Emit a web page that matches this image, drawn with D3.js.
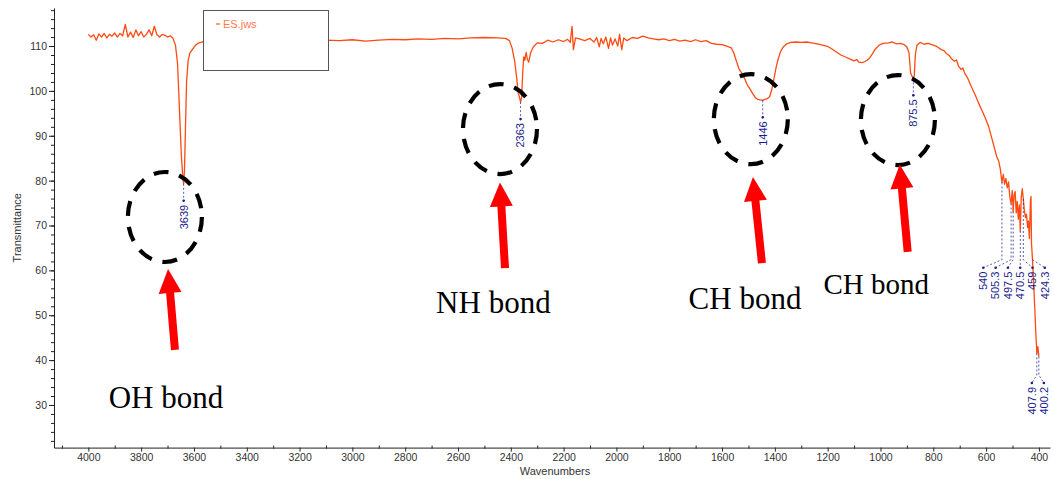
<!DOCTYPE html>
<html>
<head>
<meta charset="utf-8">
<script src="https://cdn.jsdelivr.net/npm/d3@7"></script>
<style>
  body { margin: 0; background: #fff; }
  svg { display: block; }
</style>
</head>
<body>
<div id="chart"></div>
<script>
// IR spectrum (wavenumber, %T)
const wavenumbers = [
  4000, 3990, 3980, 3970, 3960, 3950, 3940, 3930, 3920, 3910, 3900, 3890, 3880, 3870, 3860, 3850,
  3840, 3830, 3820, 3810, 3800, 3790, 3780, 3770, 3760, 3750, 3740, 3730, 3720, 3710, 3700, 3690,
  3680, 3670, 3662, 3655, 3648, 3642, 3639, 3636, 3632, 3628, 3622, 3615, 3605, 3595, 3585, 3570,
  3550, 3100, 3050, 3000, 2950, 2900, 2850, 2800, 2750, 2700, 2650, 2600, 2550, 2500, 2450, 2420,
  2405, 2395, 2385, 2378, 2372, 2368, 2363, 2359, 2355, 2351, 2347, 2342, 2337, 2332, 2325, 2315,
  2300, 2280, 2260, 2240, 2220, 2200, 2185, 2175, 2168, 2163, 2155, 2140, 2120, 2100, 2085, 2075,
  2065, 2058, 2050, 2040, 2030, 2022, 2015, 2005, 1995, 1988, 1980, 1972, 1960, 1940, 1920, 1900,
  1880, 1860, 1840, 1820, 1800, 1780, 1760, 1740, 1720, 1700, 1680, 1660, 1640, 1620, 1600, 1580,
  1565, 1555, 1545, 1535, 1525, 1515, 1505, 1495, 1485, 1475, 1465, 1455, 1446, 1438, 1428, 1420,
  1412, 1404, 1395, 1388, 1378, 1368, 1355, 1340, 1320, 1300, 1280, 1260, 1240, 1220, 1200, 1185,
  1170, 1150, 1130, 1115, 1100, 1090, 1082, 1070, 1060, 1050, 1040, 1030, 1020, 1005, 990, 970,
  955, 940, 925, 910, 900, 892, 886, 880, 875.5, 872, 868, 862, 850, 835, 820, 800,
  790, 780, 770, 760, 750, 740, 730, 720, 712, 705, 695, 688, 680, 670, 660, 650,
  640, 630, 620, 610, 600, 590, 580, 570, 560, 552, 546, 540, 535, 530, 525, 520,
  515, 510, 505.3, 501, 497.5, 494, 490, 486, 482, 478, 474, 470.5, 467, 463, 459, 455,
  451, 447, 443, 440, 436, 432, 430, 428, 424.3, 420, 416, 412, 407.9, 404, 400.2
];
const transmittance = [
  112.6, 112.0, 112.5, 111.3, 112.7, 112.0, 112.8, 111.8, 112.6, 112.2, 112.9, 112.0, 112.8, 112.3, 114.8, 112.0,
  113.1, 111.9, 113.6, 112.3, 113.2, 112.0, 112.6, 113.6, 112.3, 114.4, 112.5, 112.0, 112.6, 112.4, 112.0, 112.3,
  111.8, 110.2, 106.0, 96.0, 86.0, 80.5, 79.3, 82.0, 92.0, 102.0, 106.8, 108.5, 109.3, 110.1, 110.6, 110.9,
  111.1, 111.3, 111.2, 111.4, 111.1, 111.3, 111.5, 111.4, 111.6, 111.5, 111.7, 111.6, 111.8, 111.9, 111.8, 111.7,
  111.2, 109.5, 106.5, 103.0, 99.5, 98.8, 97.5, 98.5, 104.0, 107.6, 106.8, 108.6, 107.0, 106.4, 108.5, 109.8,
  110.7, 110.6, 111.3, 110.9, 111.4, 111.0, 111.5, 110.8, 114.4, 109.2, 111.8, 111.6, 111.2, 111.7, 110.9, 111.9,
  109.8, 111.7, 110.5, 112.0, 109.5, 111.8, 110.2, 111.6, 110.0, 112.6, 109.2, 111.8, 111.2, 111.9, 111.7, 112.2,
  111.8, 111.6, 111.4, 111.6, 111.2, 111.5, 111.1, 111.3, 111.0, 111.4, 111.0, 111.2, 110.6, 110.4, 110.3, 109.9,
  109.6, 108.4, 106.5, 104.8, 103.9, 102.8, 101.4, 100.5, 99.5, 98.6, 98.1, 98.0, 97.9, 98.1, 98.3, 98.7,
  100.2, 102.5, 105.3, 107.0, 108.8, 109.8, 110.5, 110.8, 110.9, 110.8, 110.9, 110.7, 110.5, 110.2, 109.9, 109.4,
  108.8, 108.0, 107.5, 107.1, 106.7, 107.0, 106.4, 106.3, 106.5, 106.9, 107.4, 108.3, 109.3, 110.2, 110.6, 110.7,
  110.9, 110.5, 110.6, 110.3, 109.8, 108.5, 104.0, 103.2, 102.8, 103.4, 108.0, 110.2, 110.8, 110.4, 110.6, 110.2,
  110.0, 109.6, 109.2, 109.0, 108.3, 107.9, 107.1, 106.6, 106.9, 105.6, 104.8, 105.1, 103.8, 102.9, 101.5, 100.2,
  98.9, 97.5, 96.2, 94.9, 93.5, 92.0, 89.8, 87.6, 85.4, 84.3, 82.5, 79.6, 81.4, 79.2, 80.5, 78.4,
  79.7, 76.3, 74.9, 77.8, 73.1, 76.8, 77.6, 72.8, 75.4, 71.4, 74.6, 68.8, 76.2, 78.2, 75.9, 73.3,
  71.8, 72.5, 69.6, 71.0, 67.1, 75.6, 76.5, 66.0, 62.4, 57.5, 52.0, 46.5, 41.5, 43.0, 40.8
];
const seriesName = "ES.jws";
const singlePeaks = [3639, 2363, 1446, 875.5];
const clusterPeaks = [540, 505.3, 497.5, 470.5, 459, 424.3];
const lowPeaks = [407.9, 400.2];
const bondNames = ["OH bond", "NH bond", "CH bond", "CH bond"];
const xTickValues = d3.range(400, 4001, 200);
const xMinorValues = d3.range(500, 4101, 200);
const yTickValues = d3.range(30, 111, 10);
const yMinorValues = d3.range(22, 119, 2);

const width = 1054;
const height = 479;

const svg = d3.select("#chart").append("svg")
  .attr("width", width)
  .attr("height", height)
  .style("font-family", "'Liberation Sans', Arial, sans-serif");

const x = d3.scaleLinear().domain([4130, 358]).range([54, 1050]);
const y = d3.scaleLinear().domain([20.5, 118.5]).range([447.6, 7.9]);

const spectrum = wavenumbers.map((w, i) => ({ w, t: transmittance[i] }));
const tAt = new Map(spectrum.map(d => [d.w, d.t]));

// axes
const axisColor = "#222";
svg.append("g").attr("transform", `translate(${x.range()[0]},0)`)
  .call(d3.axisLeft(y).tickValues(yTickValues).tickSize(5).tickPadding(2).tickSizeOuter(0));
svg.append("g").attr("transform", `translate(${x.range()[0]},0)`)
  .call(d3.axisLeft(y).tickValues(yMinorValues).tickSize(3).tickFormat(""))
  .call(g => g.select(".domain").remove());

svg.append("g").attr("transform", `translate(0,${y.range()[0]})`)
  .call(d3.axisBottom(x).tickValues(xTickValues).tickFormat(d3.format("d"))
    .tickSize(4).tickPadding(2).tickSizeOuter(0));
svg.append("g").attr("transform", `translate(0,${y.range()[0] + 1})`)
  .call(d3.axisTop(x).tickValues(xMinorValues).tickSize(3).tickFormat(""))
  .call(g => g.select(".domain").remove());

svg.selectAll(".tick line, .domain").attr("stroke", axisColor);
svg.selectAll(".tick text")
  .attr("fill", "#333")
  .style("font-size", "10.5px")
  .style("font-family", "'Liberation Sans', Arial, sans-serif");

svg.append("text")
  .attr("x", 555)
  .attr("y", 475)
  .attr("text-anchor", "middle")
  .attr("fill", "#333")
  .style("font-size", "11px")
  .text("Wavenumbers");

svg.append("text")
  .attr("transform", `translate(21,${(y.range()[0] + y.range()[1]) / 2}) rotate(-90)`)
  .attr("text-anchor", "middle")
  .attr("fill", "#333")
  .style("font-size", "11px")
  .text("Transmittance");

// spectrum line
const line = d3.line().x(d => x(d.w)).y(d => y(d.t));
svg.append("path")
  .datum(spectrum)
  .attr("d", line)
  .attr("fill", "none")
  .attr("stroke", "#ff4a12")
  .attr("stroke-width", 1.3)
  .attr("stroke-linejoin", "round");

// legend box (drawn over the line like the original)
const legend = svg.append("g");
legend.append("rect")
  .attr("x", 203.5).attr("y", 10.5).attr("width", 125).attr("height", 60)
  .attr("fill", "#fff").attr("stroke", "#555");
legend.append("line")
  .attr("x1", 216).attr("x2", 220).attr("y1", 24).attr("y2", 24)
  .attr("stroke", "#ff7a50").attr("stroke-width", 1.5);
legend.append("text")
  .attr("x", 223).attr("y", 28)
  .attr("fill", "#ff7a50")
  .style("font-size", "11px")
  .text(seriesName);

// peak labels
const navy = "#1c1c8e";
function peakLabel(px, py, dotY, lx, txt) {
  const g = svg.append("g");
  const pts = lx === px ? [[px, py], [px, dotY]] : [[px, py], [px, dotY - 8], [lx, dotY]];
  g.append("path")
    .attr("d", d3.line()(pts))
    .attr("fill", "none")
    .attr("stroke", navy)
    .attr("stroke-width", 0.9)
    .attr("stroke-dasharray", "2,2")
    .attr("opacity", 0.8);
  g.append("circle").attr("cx", lx).attr("cy", dotY).attr("r", 1.3).attr("fill", navy);
  g.append("text")
    .attr("transform", `translate(${lx},${dotY + 4}) rotate(-90)`)
    .attr("text-anchor", "end")
    .attr("dy", "0.35em")
    .attr("fill", navy)
    .style("font-size", "11px")
    .text(txt);
}

singlePeaks.forEach(w => {
  const px = x(w), py = y(tAt.get(w));
  peakLabel(px, py, py + 17, px, String(w));
});

function cluster(values, rowT, gap, shift) {
  const xs = values.map(w => x(w));
  const mid = d3.mean(xs) + shift;
  values.forEach((w, i) => {
    const lx = mid + (i - (values.length - 1) / 2) * gap;
    peakLabel(xs[i], y(tAt.get(w)), y(rowT), lx, String(w));
  });
}
cluster(clusterPeaks, 60.6, 12.3, -3);
cluster(lowPeaks, 34.9, 12, 0);

// annotations: dashed circles, red arrows, bond names (positions in data units)
const circleCenters = [[3710, 71.9], [2441, 91.5], [1491, 93.7], [934, 93.5]];
const arrowTips = [[3698, 60.3], [2441, 79.6], [1483, 80.8], [927, 83.6]];
const arrowTails = [[3672, 42.3], [2422, 60.5], [1449, 61.6], [897, 64.1]];
const namePos = [[3706, 29.3], [2466, 50.5], [1513, 51.4], [1016, 54.7]];
const nameSize = [31, 31, 31, 29];

circleCenters.forEach(([w, t]) => {
  svg.append("ellipse")
    .attr("cx", x(w)).attr("cy", y(t))
    .attr("rx", 37).attr("ry", 45)
    .attr("fill", "none")
    .attr("stroke", "#000")
    .attr("stroke-width", 4.2)
    .attr("stroke-dasharray", "15,11");
});

arrowTips.forEach((tip, i) => {
  const tx = x(tip[0]), ty = y(tip[1]);
  const bx = x(arrowTails[i][0]), by = y(arrowTails[i][1]);
  const ang = Math.atan2(by - ty, bx - tx);
  const ux = Math.cos(ang), uy = Math.sin(ang);
  const nx = -uy, ny = ux;
  const headLen = 24, headW = 11.5, shaftW = 4;
  const hx = tx + ux * headLen, hy = ty + uy * headLen;
  const pts = [
    [tx, ty],
    [hx + nx * headW, hy + ny * headW],
    [hx + nx * shaftW, hy + ny * shaftW],
    [bx + nx * shaftW, by + ny * shaftW],
    [bx - nx * shaftW, by - ny * shaftW],
    [hx - nx * shaftW, hy - ny * shaftW],
    [hx - nx * headW, hy - ny * headW]
  ];
  svg.append("path")
    .attr("d", d3.line()(pts) + "Z")
    .attr("fill", "#ff0000");
});

namePos.forEach(([w, t], i) => {
  svg.append("text")
    .attr("x", x(w)).attr("y", y(t))
    .attr("text-anchor", "middle")
    .attr("fill", "#000")
    .style("font-family", "'Liberation Serif', 'Times New Roman', serif")
    .style("font-size", nameSize[i] + "px")
    .text(bondNames[i]);
});
</script>
</body>
</html>
